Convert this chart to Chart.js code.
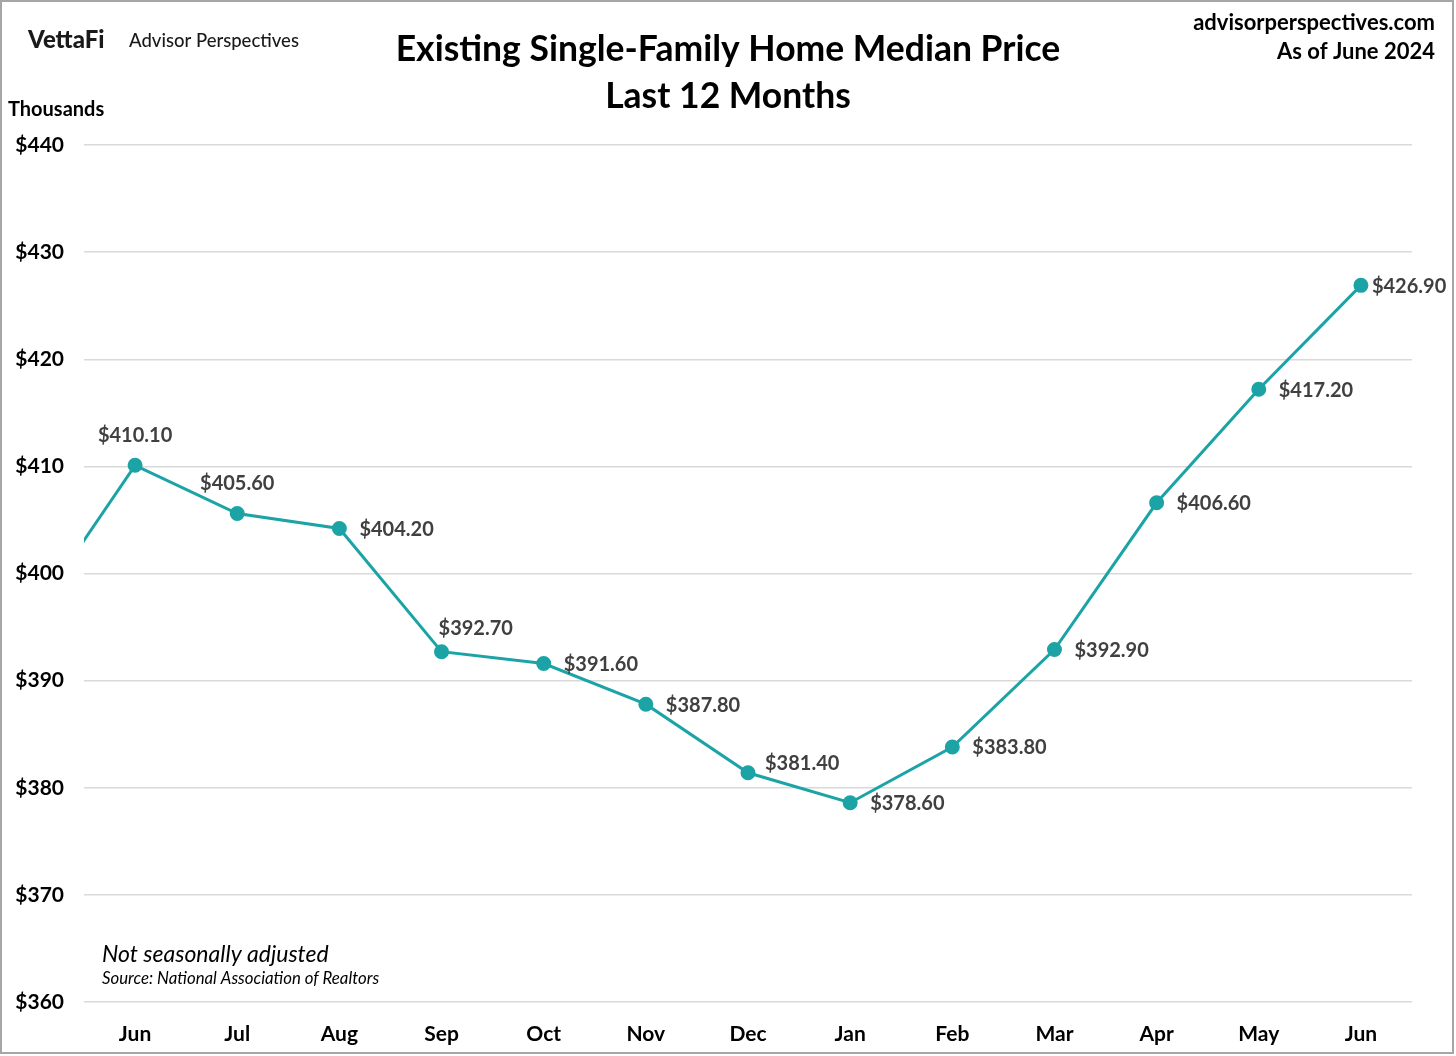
<!DOCTYPE html>
<html>
<head>
<meta charset="utf-8">
<script src="https://cdn.jsdelivr.net/npm/chart.js@4"></script>
<style>
  html, body { margin: 0; padding: 0; background: #fff; }
  #wrap { width: 1456px; height: 1056px; }
</style>
</head>
<body>
<div id="wrap"><canvas id="homePrice" width="1456" height="1056"></canvas></div>
<script>
// months on the axis (index 0..12), plus the May 2023 point that sits off the left edge
var months = ["Jun", "Jul", "Aug", "Sep", "Oct", "Nov", "Dec", "Jan", "Feb", "Mar", "Apr", "May", "Jun"];
var monthIndex = [-1, 0, 1, 2, 3, 4, 5, 6, 7, 8, 9, 10, 11, 12];
var medianPrice = [396.1, 410.1, 405.6, 404.2, 392.7, 391.6, 387.8, 381.4, 378.6, 383.8, 392.9, 406.6, 417.2, 426.9];
var yTicks = [360, 370, 380, 390, 400, 410, 420, 430, 440];

var FONT = "Lato, 'Open Sans', sans-serif";
var teal = "#1ba3a6";

var points = [];
for (var i = 0; i < medianPrice.length; i++) {
	points.push({ x: monthIndex[i], y: medianPrice[i] });
}

// where each label goes relative to its point
var labelSpot = ['none', 'above', 'above', 'right', 'aboveRight', 'right', 'right', 'rightUp', 'right', 'right', 'right', 'right', 'right', 'rightNear'];

var labelPlugin = {
	id: 'pointLabels',
	afterDatasetsDraw: function(chart) {
		var ctx = chart.ctx;
		var meta = chart.getDatasetMeta(0);
		ctx.save();
		ctx.font = "bold 20px " + FONT;
		ctx.fillStyle = "#404040";
		ctx.textBaseline = 'middle';
		meta.data.forEach(function(pt, i) {
			var spot = labelSpot[i];
			if (spot === 'none') return;
			var txt = "$" + medianPrice[i].toFixed(2);
			ctx.textAlign = 'left';
			if (spot === 'above') {
				ctx.textAlign = 'center';
				ctx.fillText(txt, pt.x, pt.y - 30);
			} else if (spot === 'aboveRight') {
				ctx.fillText(txt, pt.x - 3, pt.y - 23);
			} else if (spot === 'rightUp') {
				ctx.fillText(txt, pt.x + 17, pt.y - 9);
			} else if (spot === 'rightNear') {
				ctx.fillText(txt, pt.x + 11, pt.y + 1);
			} else {
				ctx.fillText(txt, pt.x + 20, pt.y + 1);
			}
		});
		ctx.restore();
	}
};

var framePlugin = {
	id: 'frame',
	beforeDraw: function(chart) {
		var ctx = chart.ctx;
		ctx.save();
		ctx.fillStyle = "#fff";
		ctx.fillRect(0, 0, chart.width, chart.height);
		ctx.restore();
	},
	afterDraw: function(chart) {
		var ctx = chart.ctx;
		ctx.save();
		ctx.strokeStyle = "#a6a6a6";
		ctx.lineWidth = 2;
		ctx.strokeRect(1, 1, 1452, 1052);

		ctx.textBaseline = 'middle';

		// logo
		ctx.textAlign = 'left';
		ctx.font = "900 24px " + FONT;
		ctx.fillStyle = "#1a1a1a";
		ctx.fillText("VettaFi", 28, 40);
		ctx.font = "500 18.5px " + FONT;
		ctx.fillText("Advisor Perspectives", 129, 41);

		// title
		ctx.fillStyle = "#000";
		ctx.textAlign = 'center';
		ctx.font = "bold 35.5px " + FONT;
		ctx.fillText("Existing Single-Family Home Median Price", 728, 50);
		ctx.fillText("Last 12 Months", 728, 97);

		// top right
		ctx.textAlign = 'right';
		ctx.font = "bold 22px " + FONT;
		ctx.fillText("advisorperspectives.com", 1435, 23);
		ctx.fillText("As of June 2024", 1435, 52);

		// axis unit
		ctx.textAlign = 'left';
		ctx.font = "bold 20px " + FONT;
		ctx.fillText("Thousands", 8, 110);

		// notes
		ctx.font = "italic 23px " + FONT;
		ctx.fillText("Not seasonally adjusted", 102, 955);
		ctx.font = "italic 16.8px " + FONT;
		ctx.fillText("Source: National Association of Realtors", 102, 979);
		ctx.restore();
	}
};

var ctx = document.getElementById("homePrice");

var LineGraph = new Chart(ctx, {
	type: 'line',
	data: {
		datasets: [{
			label: "Median price",
			data: points,
			borderColor: teal,
			backgroundColor: teal,
			borderWidth: 3,
			pointRadius: 6,
			pointBackgroundColor: teal,
			pointBorderColor: teal,
			tension: 0
		}]
	},
	options: {
		responsive: false,
		animation: false,
		devicePixelRatio: 1,
		layout: { padding: { top: 145, right: 44, left: 0, bottom: 0 } },
		plugins: {
			legend: { display: false },
			tooltip: { enabled: false }
		},
		scales: {
			x: {
				type: 'linear',
				min: -0.5,
				max: 12.5,
				afterBuildTicks: function(axis) {
					axis.ticks = months.map(function(m, i) { return { value: i }; });
				},
				afterFit: function(axis) { axis.height = 54; },
				ticks: {
					autoSkip: false,
					maxRotation: 0,
					padding: 12,
					color: "#000",
					font: { family: FONT, size: 21, weight: 'bold' },
					callback: function(v) { return months[v]; }
				},
				grid: { display: false },
				border: { display: false }
			},
			y: {
				min: 360,
				max: 440,
				afterBuildTicks: function(axis) {
					axis.ticks = yTicks.map(function(v) { return { value: v }; });
				},
				afterFit: function(axis) { axis.width = 84; },
				ticks: {
					padding: 20,
					color: "#000",
					font: { family: FONT, size: 21, weight: 'bold' },
					callback: function(v) { return "$" + v; }
				},
				grid: { color: "#d9d9d9", lineWidth: 1.5, drawTicks: false },
				border: { display: false }
			}
		}
	},
	plugins: [labelPlugin, framePlugin]
});
</script>
</body>
</html>
